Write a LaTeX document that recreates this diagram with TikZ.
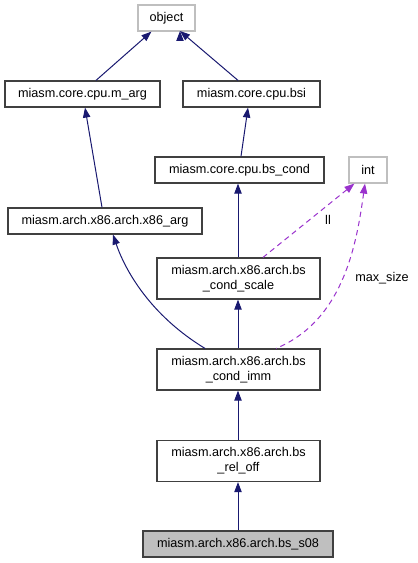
\documentclass[tikz,border=0pt]{standalone}
\usepackage{fontspec}
\setmainfont{Liberation Sans}
\usetikzlibrary{arrows.meta}
\definecolor{edgeblue}{HTML}{191970}
\definecolor{edgepurple}{HTML}{9A32CD}
\definecolor{graybd}{HTML}{BFBFBF}
\definecolor{boxbd}{HTML}{404040}
\begin{document}
\begin{tikzpicture}[x=0.75pt,y=-0.75pt,
  cls/.style={draw=boxbd,line width=0.9pt,fill=white,inner sep=0pt,font=\fontsize{9.5pt}{11.2pt}\selectfont,align=center},
  ext/.style={draw=graybd,line width=0.9pt,fill=white,inner sep=0pt,font=\fontsize{9.5pt}{11.2pt}\selectfont},
  inh/.style={draw=edgeblue,line width=0.75pt,{Triangle[length=7.5pt,width=5.5pt]}-},
  use/.style={draw=edgepurple,line width=0.75pt,dash pattern=on 4pt off 3pt,{Triangle[length=7.5pt,width=5.5pt]}-},
  lbl/.style={font=\fontsize{9.5pt}{11.2pt}\selectfont,inner sep=1pt}]
\useasboundingbox (0,0) rectangle (417,563);
\node[ext,minimum width=57*0.75pt,minimum height=26*0.75pt] (object) at (166.5,18) {object};
\node[cls,minimum width=155*0.75pt,minimum height=26*0.75pt] (marg) at (82.5,94) {miasm.core.cpu.m\_arg};
\node[cls,minimum width=137*0.75pt,minimum height=26*0.75pt] (bsi) at (251.5,94) {miasm.core.cpu.bsi};
\node[cls,minimum width=169*0.75pt,minimum height=26*0.75pt] (bscond) at (239.5,170) {miasm.core.cpu.bs\_cond};
\node[ext,minimum width=38*0.75pt,minimum height=26*0.75pt] (int) at (368,170) {int};
\node[cls,minimum width=194*0.75pt,minimum height=26*0.75pt] (x86arg) at (105,221) {miasm.arch.x86.arch.x86\_arg};
\node[cls,minimum width=163*0.75pt,minimum height=41*0.75pt] (scale) at (238.5,278.5) {miasm.arch.x86.arch.bs\\\_cond\_scale};
\node[cls,minimum width=163*0.75pt,minimum height=41*0.75pt] (imm) at (238.5,369.5) {miasm.arch.x86.arch.bs\\\_cond\_imm};
\node[cls,minimum width=163*0.75pt,minimum height=41*0.75pt] (reloff) at (238.5,461) {miasm.arch.x86.arch.bs\\\_rel\_off};
\node[cls,fill=graybd,minimum width=190*0.75pt,minimum height=26*0.75pt] (s08) at (238,544) {miasm.arch.x86.arch.bs\_s08};
\node[lbl] (lblll) at (328,220) {ll};
\node[lbl] (lblmax) at (382,278) {max\_size};
\draw[inh] (object.south west)++(14,0) coordinate (o1) -- (marg.north -| 96,0);
\draw[inh] (object) ++(13.5,13) coordinate (o2);
\draw[inh] (o2) -- (bsi.north -| 238,0);
\draw[inh] (marg.south -| 85,0) -- (x86arg.north -| 102,0);
\draw[inh] (bsi.south -| 248,0) -- (bscond.north -| 241,0);
\draw[inh] (bscond.south -| 238,0) -- (scale.north -| 238,0);
\draw[inh] (scale.south -| 238,0) -- (imm.north -| 238,0);
\draw[inh] (imm.south -| 238,0) -- (reloff.north -| 238,0);
\draw[inh] (reloff.south -| 238,0) -- (s08.north -| 238,0);
\draw[inh] (x86arg.south -| 113,0) .. controls (125,270) and (150,315) .. (imm.north -| 205,0);
\draw[use] (int.south west)++(6,0) coordinate (i1) -- (scale.north -| 263,0);
\draw[use] (int.south -| 365,0) .. controls (357,240) and (345,320) .. (imm.north -| 276,0);
\end{tikzpicture}
\end{document}
